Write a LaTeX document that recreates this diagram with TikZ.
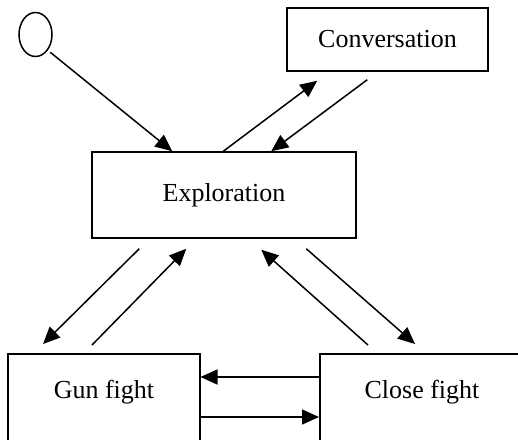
\documentclass[tikz,border=0pt]{standalone}
\usepackage{fontspec}
\setmainfont{Liberation Serif}
\usetikzlibrary{arrows.meta,calc,shapes.geometric}
\tikzset{
  box/.style={draw,line width=1.5pt,rectangle,inner sep=0pt,font=\fontsize{26}{30}\selectfont},
  lbl/.style={inner sep=0pt,font=\fontsize{26}{30}\selectfont},
  arr/.style={line width=1.5pt,-{Triangle[length=17pt,width=15pt]}},
}
\begin{document}
\begin{tikzpicture}[x=1pt,y=-1pt]
  \useasboundingbox (0,0) rectangle (518,439);
  \clip (0,0) rectangle (518,439);
  \fill[white] (0,0) rectangle (518,439);
  % states
  \node[draw,line width=1.5pt,ellipse,minimum width=33pt,minimum height=44pt,inner sep=0pt] (start) at (35.5,34.5) {};
  \node[box,minimum width=201pt,minimum height=63pt] (conv) at (387.5,39.5) {Conversation};
  \node[box,minimum width=264pt,minimum height=86pt] (expl) at (224,195) {Exploration};
  \node[box,anchor=north west,minimum width=192pt,minimum height=140pt] (gun) at (7,353) {};
  \node[lbl] (guntxt) at (104,392) {Gun fight};
  \node[box,anchor=north west,minimum width=240pt,minimum height=140pt] (close) at (319,353) {};
  \node[lbl] (closetxt) at (422,392) {Close fight};
  % transitions
  \draw[arr,shorten <=3pt] (start.-52) -- ($(expl.north west)+(81,0)$);
  \draw[arr] ($(expl.north west)+(132,0)$) -- ($(conv.south west)+(31,9)$);
  \draw[arr] ($(conv.south west)+(81,8)$) -- ($(expl.north west)+(180,0)$);
  \draw[arr] ($(expl.south west)+(48,10)$) -- ($(gun.north west)+(36,-9)$);
  \draw[arr] ($(gun.north west)+(85,-8)$) -- ($(expl.south west)+(95,10)$);
  \draw[arr] ($(close.north west)+(49,-8)$) -- ($(expl.south west)+(170,11)$);
  \draw[arr] ($(expl.south west)+(215,10)$) -- ($(close.north west)+(96,-9)$);
  \draw[arr] ($(close.north west)+(0,24)$) -- ($(gun.north east)+(0,24)$);
  \draw[arr] ($(gun.north east)+(0,64)$) -- ($(close.north west)+(0,64)$);
\end{tikzpicture}
\end{document}
